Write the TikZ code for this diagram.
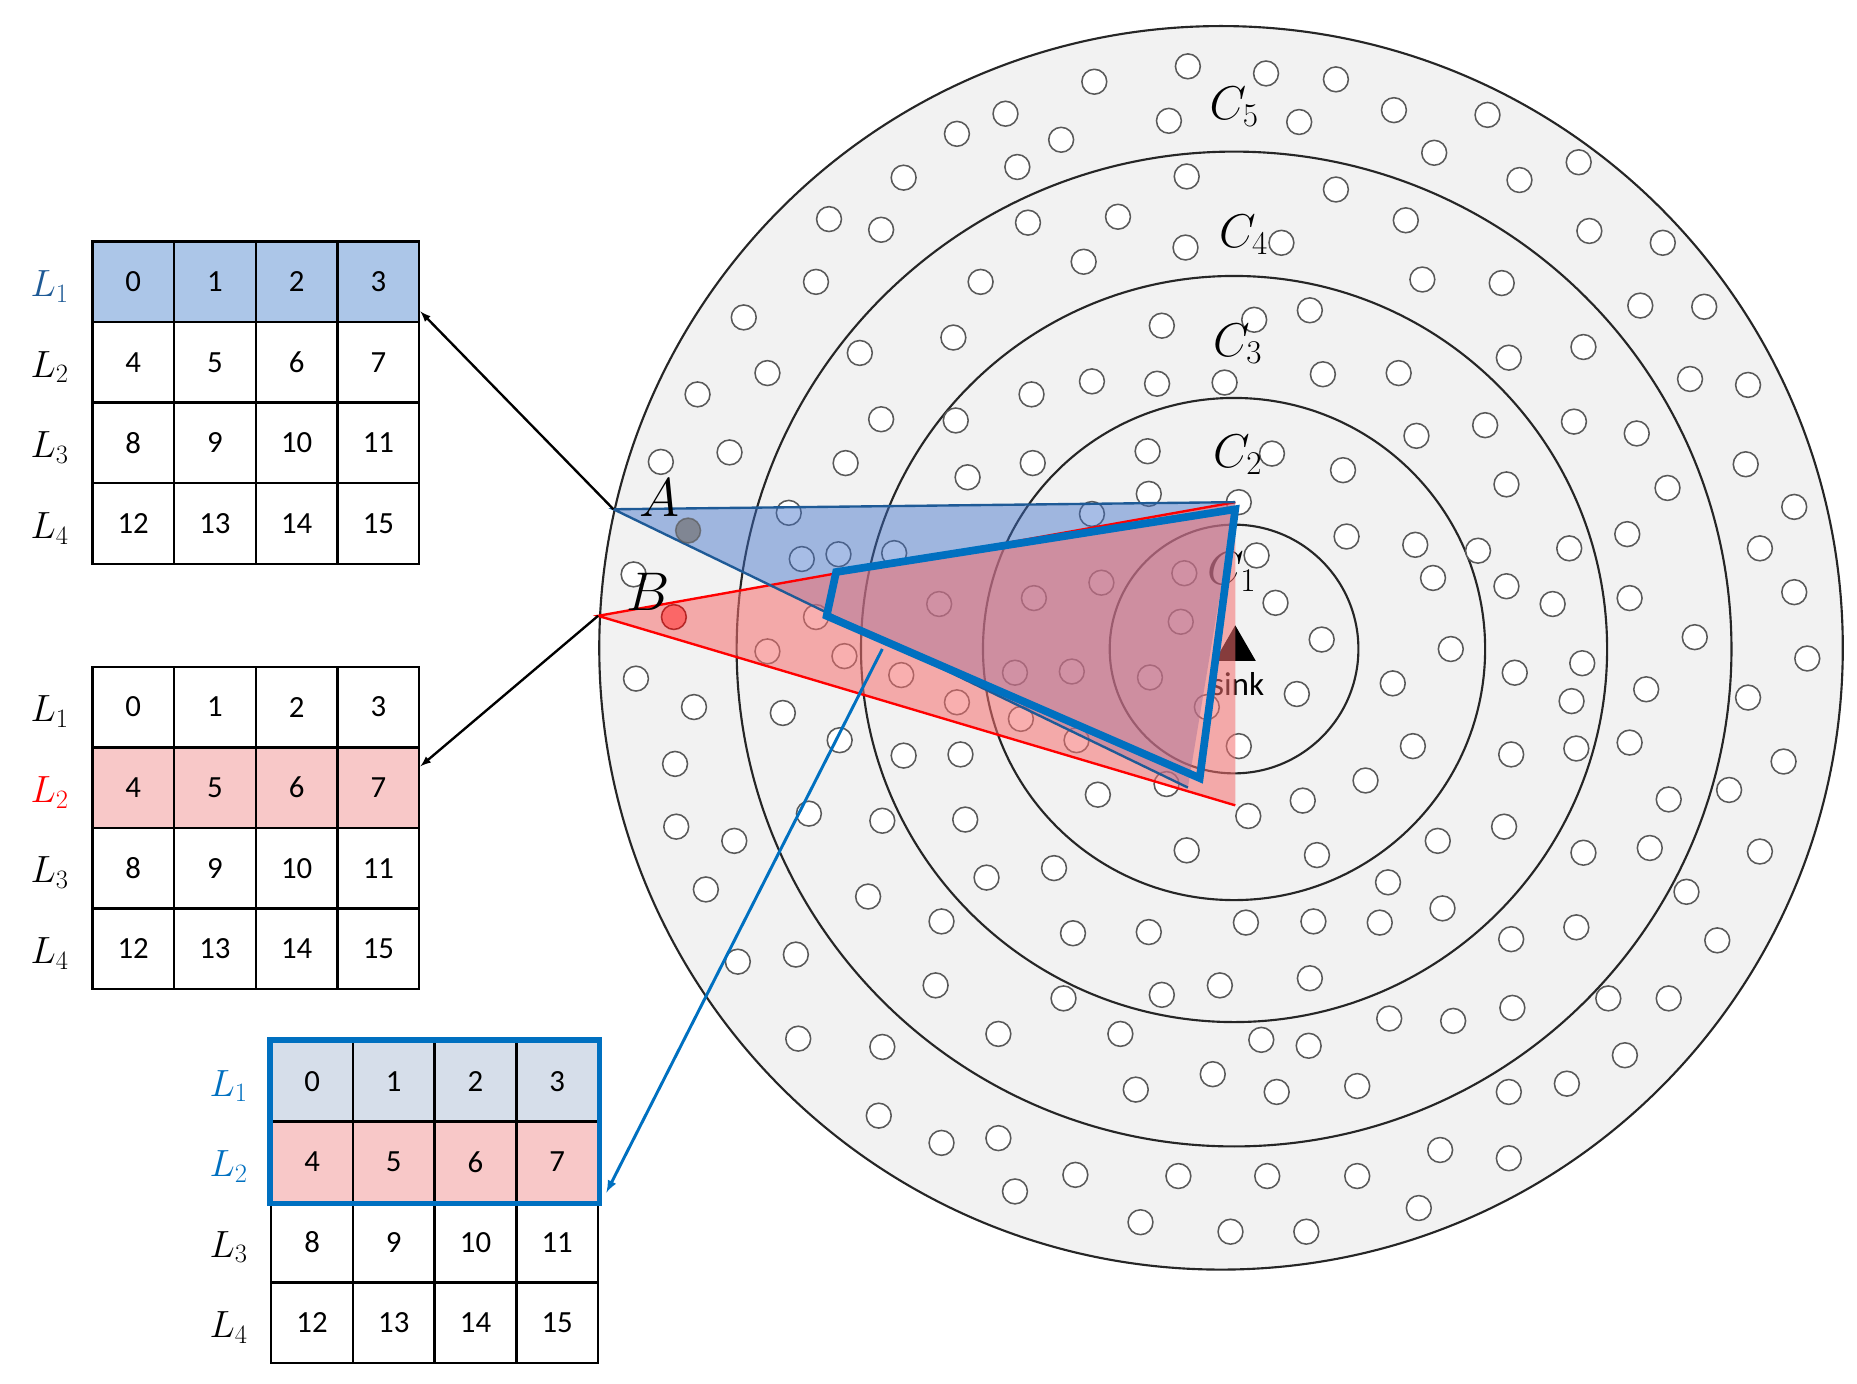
\RequirePackage{fix-cm}
\documentclass[tikz,border=0pt]{standalone}
\usepackage{fontspec}
\setmainfont{Carlito}
\usepackage{amsmath}
\usetikzlibrary{shapes.geometric}
\begin{document}
\definecolor{ringbg}{RGB}{242,242,242}
\definecolor{rowblue}{RGB}{172,198,232}
\definecolor{rowgray}{RGB}{214,222,234}
\definecolor{rowred}{RGB}{248,200,200}
\definecolor{lblue}{RGB}{30,90,150}
\definecolor{lblue2}{RGB}{0,112,192}
\definecolor{fblue}{RGB}{60,110,200}
\definecolor{fred}{RGB}{245,110,110}
\begin{tikzpicture}[x=1pt,y=-1pt,
  dot/.style={circle,draw=black!65,fill=white,line width=1.3pt,minimum size=21pt,inner sep=0pt},
  cell/.style={draw=black,line width=2pt,minimum width=69pt,minimum height=68pt,inner sep=0pt,font=\fontsize{26}{30}\selectfont},
  ring/.style={draw=black!85,line width=1.8pt},
  llab/.style={font=\fontsize{32}{36}\selectfont},
  clab/.style={font=\fontsize{40}{44}\selectfont},
  arr/.style={-latex,line width=2pt}]
\useasboundingbox (0,0) rectangle (1568,1168);
% rings
\fill[ringbg] (1031,547) circle (525);
\draw[ring] (1031,547) circle (525);
\foreach \r in {420,315,212,105} \draw[ring] (1042,548) circle (\r);
% dots
\foreach \p [count=\i] in {(924,69),(1003,56),(1069,62),(1128,67),(849,96),(808,113),(987,102),(1097,103),(1177,93),(1256,97),(859,141),(896,118),(763,150),(1211,129),(1002,149),(1283,152),(1333,137),(1128,160),(700,185),(744,194),(868,188),(944,183),(1187,186),(1342,195),(1404,205),(1001,209),(1082,205),(915,221),(689,238),(828,238),(1201,236),(1268,239),(1385,258),(1439,259),(628,268),(981,275),(1059,270),(1106,262),(726,298),(805,285),(1337,293),(1274,302),(589,333),(648,315),(871,333),(922,322),(977,324),(1034,323),(1117,316),(1181,315),(1427,320),(1476,325),(744,354),(807,355),(1196,368),(1254,359),(1329,356),(1382,366),(558,390),(616,382),(714,391),(817,403),(872,391),(969,381),(1074,383),(1134,397),(1272,409),(1408,412),(1474,392),(1515,428),(666,433),(970,417),(922,434),(1046,424),(1061,469),(1137,453),(1195,460),(1248,465),(1325,463),(1374,451),(1486,463),(677,472),(708,468),(755,467),(1210,488),(1272,495),(1311,510),(1376,505),(1515,500),(535,485),(873,505),(930,492),(1000,484),(1077,509),(1431,538),(1526,556),(793,510),(689,521),(997,525),(648,550),(713,554),(761,570),(857,568),(905,567),(971,572),(1116,540),(1225,548),(1279,568),(1336,560),(1390,582),(1476,589),(537,573),(586,597),(661,602),(808,593),(862,607),(1019,597),(1095,586),(1176,577),(1327,592),(709,625),(909,625),(1046,630),(1193,630),(1276,637),(1331,632),(1376,627),(1506,643),(570,645),(763,638),(811,637),(1153,659),(1460,667),(683,687),(745,693),(815,692),(927,671),(985,662),(1100,676),(1054,689),(1409,675),(571,698),(620,710),(1002,718),(1112,722),(1214,710),(1270,698),(1337,720),(1393,716),(1486,719),(890,733),(833,741),(596,751),(733,757),(1172,745),(1218,767),(1424,753),(795,778),(906,788),(970,787),(1052,779),(1109,778),(1165,779),(1276,793),(1331,783),(1450,794),(672,806),(623,812),(790,832),(981,840),(1030,832),(1106,826),(898,843),(1227,862),(1277,851),(1358,843),(1409,843),(674,877),(745,884),(843,873),(946,873),(1065,878),(1105,883),(1173,860),(1372,891),(1024,907),(959,920),(1078,922),(1146,917),(1274,922),(1323,915),(742,942),(795,965),(843,961),(908,992),(995,993),(1070,993),(1146,993),(1216,971),(1274,978),(857,1006),(1198,1020),(963,1032),(1039,1040),(1103,1040)}
  \node[dot] (d\i) at \p {};
% sink
\node[fill=black,isosceles triangle,shape border rotate=90,isosceles triangle apex angle=60,minimum size=30pt,inner sep=0pt] (sinktri) at (1043,548) {};
\node[font=\fontsize{28}{32}\selectfont] (sink) at (1045,578) {sink};
% C labels
\node[clab] (c5) at (1042,90) {$C_5$};
\node[clab] (c4) at (1050,198) {$C_4$};
\node[clab] (c3) at (1045,290) {$C_3$};
\node[clab] (c2) at (1045,384) {$C_2$};
\node[clab] (c1) at (1040,483) {$C_1$};
% sectors
\coordinate (A) at (518,430);
\coordinate (B) at (505,520);
\coordinate (S1) at (1043,424);
\coordinate (S2) at (1043,680);
\coordinate (S3) at (1003,665);
\fill[fblue,opacity=0.45] (A) -- (S1) -- (S3) -- cycle;
\fill[fred,opacity=0.55] (B) -- (S1) -- (S2) -- cycle;
\draw[red,line width=2pt] (S2) -- (B) -- (S1);
\draw[lblue,line width=2pt] (S1) -- (A) -- (S3);
\node[dot,fill=black!55,opacity=0.7] (da) at (581,448) {};
\node[dot,fill=red!70,draw=red!60!black,opacity=0.7] (db) at (569,521) {};
\draw[lblue2,line width=6.5pt,line join=miter] (706,483) -- (1043,430) -- (1013,657) -- (698,520) -- cycle;
\node[font=\fontsize{46}{50}\selectfont] (la) at (557,420) {$A$};
\node[font=\fontsize{46}{50}\selectfont] (lb) at (547,500) {$B$};
% tables
\foreach \t/\x/\y in {1/78/204, 2/78/563, 3/229/879} {
  \foreach \r in {1,...,4} \foreach \c in {1,...,4} {
    \pgfmathtruncatemacro\n{(\r-1)*4+\c-1}
    \node[cell] (t\t-\r-\c) at (\x+69*\c-34.5,\y+68*\r-34) {\n};
  }
}
\foreach \c in {1,...,4} {
  \node[cell,fill=rowblue] at (t1-1-\c) {\pgfmathtruncatemacro\n{\c-1}\n};
  \node[cell,fill=rowred] at (t2-2-\c) {\pgfmathtruncatemacro\n{\c+3}\n};
  \node[cell,fill=rowgray] at (t3-1-\c) {\pgfmathtruncatemacro\n{\c-1}\n};
  \node[cell,fill=rowred] at (t3-2-\c) {\pgfmathtruncatemacro\n{\c+3}\n};
}
\draw[lblue2,line width=4.5pt] (t3-1-1.north west) rectangle (t3-2-4.south east);
% row labels
\foreach \t/\x/\y in {1/42/204, 2/42/563, 3/193/879}
  \foreach \r in {1,...,4} \node[llab] (l\t-\r) at (\x,\y+68*\r-30) {$L_{\r}$};
\node[llab,text=lblue,fill=white] at (l1-1) {$L_1$};
\node[llab,text=red,fill=white] at (l2-2) {$L_2$};
\node[llab,text=lblue2,fill=white] at (l3-1) {$L_1$};
\node[llab,text=lblue2,fill=white] at (l3-2) {$L_2$};
% arrows
\coordinate (q) at (745,548);
\draw[arr] (A) -- ([yshift=8pt]t1-2-4.north east);
\draw[arr] (B) -- ([yshift=18pt]t2-2-4.east);
\draw[arr,lblue2,line width=2.5pt] (q) -- ([xshift=6pt,yshift=-26pt]t3-2-4.east);
\end{tikzpicture}
\end{document}
